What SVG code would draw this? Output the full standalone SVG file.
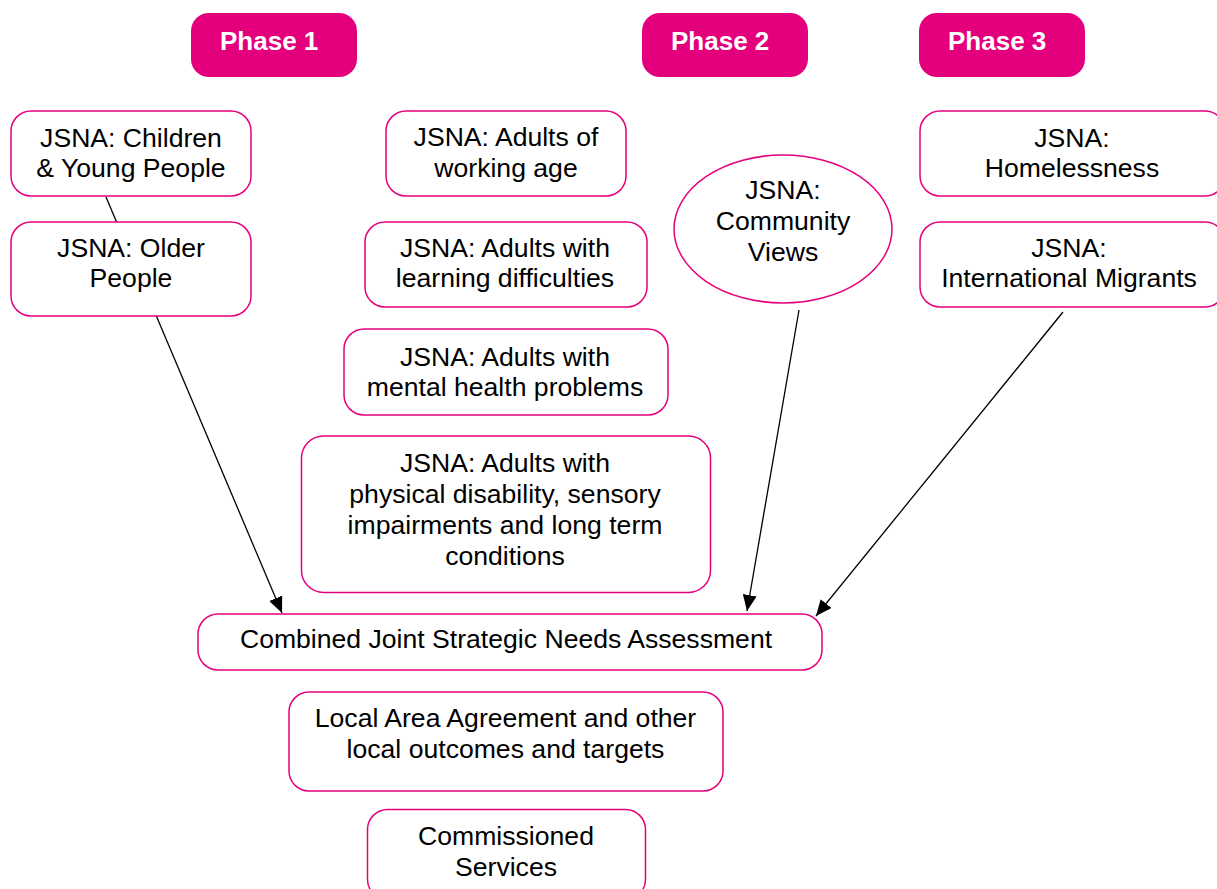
<svg xmlns="http://www.w3.org/2000/svg" width="1217" height="889" viewBox="0 0 1217 889">
<defs>
<style>
.node{fill:#ffffff;stroke:#e6007e;stroke-width:1.5}
.phase{fill:#e4007c;stroke:none}
.t{font-family:"Liberation Sans",Arial,sans-serif;font-size:26.6px;fill:#000000;text-anchor:middle}
.pt{font-family:"Liberation Sans",Arial,sans-serif;font-size:26px;font-weight:bold;fill:#ffffff}
.conn{stroke:#000000;stroke-width:1.3;fill:none}
</style>
<marker id="arr" markerUnits="userSpaceOnUse" viewBox="0 0 16 14" refX="16" refY="7" markerWidth="16" markerHeight="14" orient="auto">
<path d="M0,0 L16,7 L0,14 Z" fill="#000000"/>
</marker>
</defs>
<rect width="1217" height="889" fill="#ffffff"/>
<g id="connectors">
<line class="conn" x1="106" y1="197" x2="282" y2="613" marker-end="url(#arr)"/>
<line class="conn" x1="799" y1="310" x2="747" y2="611" marker-end="url(#arr)"/>
<line class="conn" x1="1063" y1="312" x2="816" y2="616" marker-end="url(#arr)"/>
</g>
<g id="phase1"><rect class="phase" x="191" y="13" width="166" height="64" rx="18"/><text class="pt" x="220" y="50">Phase 1</text></g>
<g id="phase2"><rect class="phase" x="642" y="13" width="166" height="64" rx="18"/><text class="pt" x="671" y="50">Phase 2</text></g>
<g id="phase3"><rect class="phase" x="919" y="13" width="166" height="64" rx="18"/><text class="pt" x="948" y="50">Phase 3</text></g>
<g id="children"><rect class="node" x="11" y="111" width="240" height="85" rx="20"/><text class="t"><tspan x="131" y="146.5">JSNA: Children</tspan><tspan x="131" y="177">&amp; Young People</tspan></text></g>
<g id="older"><rect class="node" x="11" y="222" width="240" height="94" rx="20"/><text class="t"><tspan x="131" y="256.5">JSNA: Older</tspan><tspan x="131" y="287">People</tspan></text></g>
<g id="working"><rect class="node" x="386" y="111" width="240" height="85" rx="20"/><text class="t"><tspan x="506" y="146">JSNA: Adults of</tspan><tspan x="506" y="177">working age</tspan></text></g>
<g id="learning"><rect class="node" x="365" y="222" width="282" height="85" rx="20"/><text class="t"><tspan x="505" y="256.5">JSNA: Adults with</tspan><tspan x="505" y="287">learning difficulties</tspan></text></g>
<g id="mental"><rect class="node" x="344" y="329" width="324" height="86" rx="20"/><text class="t"><tspan x="505" y="365.5">JSNA: Adults with</tspan><tspan x="505" y="396">mental health problems</tspan></text></g>
<g id="physical"><rect class="node" x="301.5" y="436" width="409" height="156.5" rx="22"/><text class="t"><tspan x="505" y="471.5">JSNA: Adults with</tspan><tspan x="505" y="502.5">physical disability, sensory</tspan><tspan x="505" y="533.5">impairments and long term</tspan><tspan x="505" y="564.5">conditions</tspan></text></g>
<g id="community"><ellipse class="node" cx="783" cy="229" rx="109" ry="74"/><text class="t"><tspan x="783" y="199">JSNA:</tspan><tspan x="783" y="230">Community</tspan><tspan x="783" y="261">Views</tspan></text></g>
<g id="homeless"><rect class="node" x="920" y="111" width="305" height="85" rx="20"/><text class="t"><tspan x="1072" y="146.5">JSNA:</tspan><tspan x="1072" y="177">Homelessness</tspan></text></g>
<g id="migrants"><rect class="node" x="920" y="222" width="305" height="85" rx="20"/><text class="t"><tspan x="1069" y="256.5">JSNA:</tspan><tspan x="1069" y="287">International Migrants</tspan></text></g>
<g id="combined"><rect class="node" x="198" y="614" width="624" height="56" rx="20"/><text class="t" x="506" y="648">Combined Joint Strategic Needs Assessment</text></g>
<g id="laa"><rect class="node" x="289" y="692" width="434" height="99" rx="20"/><text class="t"><tspan x="505.5" y="727">Local Area Agreement and other</tspan><tspan x="505.5" y="758">local outcomes and targets</tspan></text></g>
<g id="commissioned"><rect class="node" x="367.5" y="809.5" width="278" height="90" rx="20"/><text class="t"><tspan x="506" y="845">Commissioned</tspan><tspan x="506" y="876">Services</tspan></text></g>
</svg>
